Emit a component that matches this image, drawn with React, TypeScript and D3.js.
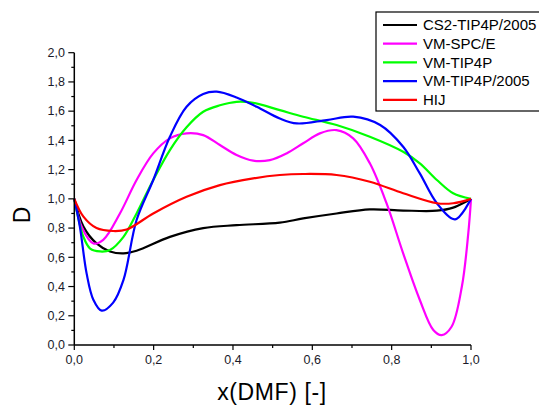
import React from "react";
import * as d3 from "d3";

const W = 539;
const H = 405;

const xTicks = [0, 0.2, 0.4, 0.6, 0.8, 1.0];
const xMinor = [0.1, 0.3, 0.5, 0.7, 0.9];
const yTicks = [0, 0.2, 0.4, 0.6, 0.8, 1.0, 1.2, 1.4, 1.6, 1.8, 2.0];
const yMinor = [0.1, 0.3, 0.5, 0.7, 0.9, 1.1, 1.3, 1.5, 1.7, 1.9];

const seriesNames = ["CS2-TIP4P/2005", "VM-SPC/E", "VM-TIP4P", "VM-TIP4P/2005", "HIJ"];
const seriesColors = ["#000000", "#ff00ff", "#00ff00", "#0000ff", "#ff0000"];

const cs2X = [0, 0.023, 0.056, 0.09, 0.124, 0.157, 0.241, 0.325, 0.409, 0.518, 0.577, 0.661, 0.745, 0.829, 0.914, 0.955, 1.0];
const cs2D = [1.0, 0.81, 0.695, 0.64, 0.627, 0.645, 0.74, 0.8, 0.82, 0.837, 0.866, 0.9, 0.928, 0.92, 0.919, 0.94, 1.0];

const spceX = [0, 0.02, 0.048, 0.073, 0.115, 0.157, 0.199, 0.241, 0.283, 0.325, 0.367, 0.409, 0.451, 0.493, 0.535, 0.577, 0.619, 0.661, 0.703, 0.745, 0.787, 0.829, 0.871, 0.905, 0.926, 0.951, 0.977, 0.993, 1.0];
const spceD = [1.0, 0.8, 0.695, 0.72, 0.9, 1.129, 1.311, 1.414, 1.448, 1.436, 1.368, 1.3, 1.261, 1.265, 1.311, 1.38, 1.448, 1.47, 1.414, 1.243, 0.97, 0.627, 0.308, 0.103, 0.068, 0.125, 0.4, 0.76, 1.0];

const tip4pX = [0, 0.023, 0.04, 0.065, 0.09, 0.124, 0.157, 0.199, 0.241, 0.283, 0.325, 0.367, 0.409, 0.451, 0.518, 0.577, 0.661, 0.745, 0.829, 0.871, 0.914, 0.955, 1.0];
const tip4pD = [1.0, 0.74, 0.66, 0.64, 0.65, 0.74, 0.9, 1.129, 1.334, 1.49, 1.596, 1.64, 1.664, 1.657, 1.607, 1.562, 1.505, 1.425, 1.322, 1.243, 1.129, 1.038, 1.0];

const tip4p05X = [0, 0.014, 0.031, 0.048, 0.069, 0.098, 0.124, 0.157, 0.199, 0.241, 0.283, 0.325, 0.359, 0.409, 0.46, 0.518, 0.561, 0.636, 0.703, 0.771, 0.829, 0.871, 0.914, 0.96, 1.0];
const tip4p05D = [1.0, 0.81, 0.49, 0.31, 0.235, 0.29, 0.445, 0.855, 1.129, 1.425, 1.63, 1.717, 1.733, 1.694, 1.63, 1.55, 1.516, 1.539, 1.562, 1.505, 1.356, 1.174, 0.97, 0.86, 1.0];

const hijX = [0, 0.023, 0.056, 0.098, 0.132, 0.199, 0.283, 0.367, 0.451, 0.518, 0.577, 0.661, 0.745, 0.829, 0.914, 0.955, 1.0];
const hijD = [1.0, 0.878, 0.8, 0.78, 0.79, 0.9, 1.014, 1.094, 1.14, 1.163, 1.17, 1.163, 1.117, 1.038, 0.97, 0.97, 1.0];

const seriesX = [cs2X, spceX, tip4pX, tip4p05X, hijX];
const seriesD = [cs2D, spceD, tip4pD, tip4p05D, hijD];

const fmt = (v: number) => v.toFixed(1).replace(".", ",");

export default function App() {
  const x = d3.scaleLinear().domain([0, 1]).range([74.3, 471]);
  const y = d3.scaleLinear().domain([0, 2]).range([345, 52.7]);
  const line = d3
    .line<[number, number]>()
    .x((d) => x(d[0]))
    .y((d) => y(d[1]))
    .curve(d3.curveCatmullRom.alpha(0.5));

  const font = "'Liberation Sans', Arial, sans-serif";
  const tickColor = "#1a1a2a";

  return (
    <svg
      width={W}
      height={H}
      style={{ position: "absolute", left: 0, top: 0, background: "#fff" }}
      fontFamily={font}
    >
      <rect x={0} y={0} width={W} height={H} fill="#fff" />
      {seriesX.map((xs, i) => (
        <path
          key={i}
          d={line(xs.map((v, j) => [v, seriesD[i][j]] as [number, number])) || ""}
          fill="none"
          stroke={seriesColors[i]}
          strokeWidth={2.2}
          strokeLinejoin="round"
        />
      ))}
      {/* axes */}
      <line x1={x(0)} x2={x(1)} y1={y(0)} y2={y(0)} stroke="#000" strokeWidth={1.5} />
      <line x1={x(0)} x2={x(0)} y1={y(0)} y2={y(2)} stroke="#000" strokeWidth={1.5} />
      {xTicks.map((t) => (
        <g key={"xt" + t}>
          <line x1={x(t)} x2={x(t)} y1={y(0)} y2={y(0) + 5} stroke="#000" strokeWidth={1.2} />
          <text x={x(t)} y={364} textAnchor="middle" fontSize={12.5} fill={tickColor}>
            {fmt(t)}
          </text>
        </g>
      ))}
      {xMinor.map((t) => (
        <line key={"xm" + t} x1={x(t)} x2={x(t)} y1={y(0)} y2={y(0) + 3} stroke="#000" strokeWidth={1.2} />
      ))}
      {yTicks.map((t) => (
        <g key={"yt" + t}>
          <line x1={x(0) - 6} x2={x(0)} y1={y(t)} y2={y(t)} stroke="#000" strokeWidth={1.2} />
          <text x={65} y={y(t) + 4.3} textAnchor="end" fontSize={12.5} fill={tickColor}>
            {fmt(t)}
          </text>
        </g>
      ))}
      {yMinor.map((t) => (
        <line key={"ym" + t} x1={x(0) - 3} x2={x(0)} y1={y(t)} y2={y(t)} stroke="#000" strokeWidth={1.2} />
      ))}
      <text x={272} y={400} textAnchor="middle" fontSize={23} letterSpacing={0.6} fill="#000">
        x(DMF) [-]
      </text>
      <text
        transform="translate(30,215) rotate(-90)"
        textAnchor="middle"
        fontSize={23}
        fill="#000"
      >
        D
      </text>
      {/* legend */}
      <rect x={376} y={12} width={180} height={99} fill="#fff" stroke="#000" strokeWidth={1.2} />
      {seriesNames.map((n, i) => {
        const ly = 25 + i * 18.7;
        return (
          <g key={n}>
            <line x1={383} x2={417} y1={ly} y2={ly} stroke={seriesColors[i]} strokeWidth={2.2} />
            <text x={423} y={ly + 5.3} fontSize={15} fill="#000">
              {n}
            </text>
          </g>
        );
      })}
    </svg>
  );
}
